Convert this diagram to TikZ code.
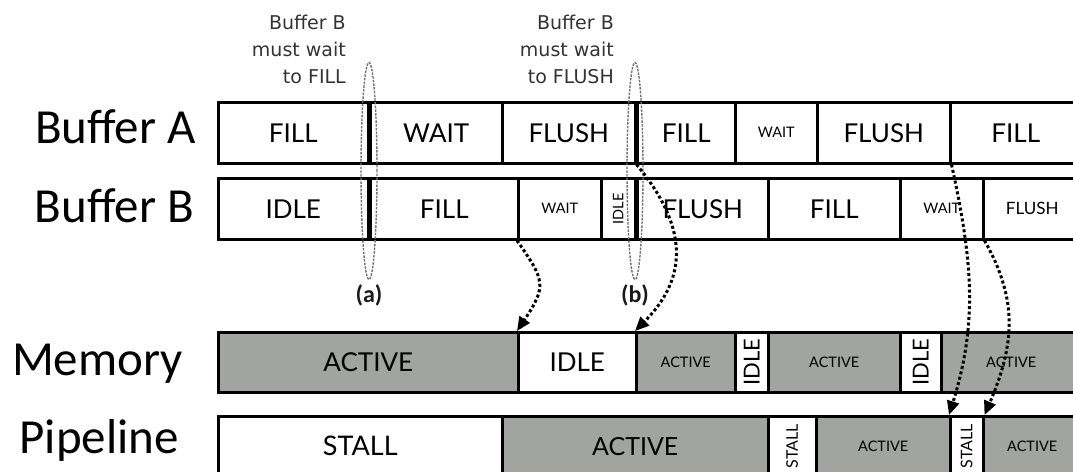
\documentclass[tikz,border=0pt]{standalone}
\usepackage{fontspec}
\usepackage{graphicx}
\setmainfont{Lato}
\newfontfamily\labelfont{Carlito}
\newfontfamily\notefont{DejaVu Sans}
\usetikzlibrary{arrows.meta,positioning,shapes.geometric}

\definecolor{cellgray}{RGB}{162,164,159}

\tikzset{
  cell/.style={draw, line width=2.5pt, anchor=north west, inner sep=0pt, align=center},
  busy/.style={cell, fill=cellgray},
  big/.style={font=\fontsize{26}{30}\selectfont},
  mid/.style={font=\fontsize{22}{26}\selectfont},
  small/.style={font=\fontsize{14.5}{17}\selectfont},
  rowlabel/.style={font=\labelfont\fontsize{49}{53}\selectfont, inner sep=0pt},
  note/.style={font=\notefont\fontsize{19}{27}\selectfont, text=black!80, align=right, inner sep=0pt, anchor=north east},
  group/.style={draw=black!55, ellipse, line width=1.4pt, dash pattern=on 2.5pt off 1.2pt, inner sep=0pt},
  tag/.style={font=\labelfont\bfseries\fontsize{24}{28}\selectfont, text=black!90, inner sep=0pt},
  flow/.style={line width=3pt, dash pattern=on 3pt off 2.5pt, -{Triangle[length=14pt,width=12pt]}}
}

\begin{document}
\begin{tikzpicture}[x=1pt, y=-1pt]

  \clip (0,0) rectangle (1073,471);

  % Row labels
  \node[rowlabel, anchor=base east] (labA) at (196,143) {Buffer A};
  \node[rowlabel, anchor=base east] (labB) at (194,222) {Buffer B};
  \node[rowlabel, anchor=base east] (labM) at (183,375) {Memory};
  \node[rowlabel, anchor=base east] (labP) at (179,453) {Pipeline};

  % Buffer A
  \node[cell, big, minimum width=150pt, minimum height=61pt] (a1) at (217,101) {FILL};
  \node[cell, big, minimum width=132pt, minimum height=61pt] (a2) at (369,101) {WAIT};
  \node[cell, big, minimum width=133pt, minimum height=61pt] (a3) at (501,101) {FLUSH};
  \node[cell, big, minimum width=98pt,  minimum height=61pt] (a4) at (636,101) {FILL};
  \node[cell, small, minimum width=82pt, minimum height=61pt] (a5) at (734,101) {WAIT};
  \node[cell, big, minimum width=133pt, minimum height=61pt] (a6) at (816,101) {FLUSH};
  \node[cell, big, minimum width=131pt, minimum height=61pt] (a7) at (949,101) {FILL};

  % Buffer B
  \node[cell, big, minimum width=150pt, minimum height=61pt] (b1) at (217,177) {IDLE};
  \node[cell, big, minimum width=148pt, minimum height=61pt] (b2) at (369,177) {FILL};
  \node[cell, small, minimum width=83pt, minimum height=61pt] (b3) at (517,177) {WAIT};
  \node[cell, small, minimum width=34pt, minimum height=61pt] (b4) at (600,177) {\rotatebox{90}{IDLE}};
  \node[cell, big, minimum width=131pt, minimum height=61pt] (b5) at (636,177) {FLUSH};
  \node[cell, big, minimum width=132pt, minimum height=61pt] (b6) at (767,177) {FILL};
  \node[cell, small, minimum width=83pt, minimum height=61pt] (b7) at (899,177) {WAIT};
  \node[cell, font=\fontsize{17}{20}\selectfont, minimum width=98pt, minimum height=61pt] (b8) at (982,177) {FLUSH};

  % Memory
  \node[busy, font=\fontsize{26}{30}\selectfont, minimum width=300pt, minimum height=60pt] (m1) at (217,331) {ACTIVE};
  \node[cell, big, minimum width=118pt, minimum height=60pt] (m2) at (517,331) {IDLE};
  \node[busy, small, minimum width=99pt, minimum height=60pt] (m3) at (635,331) {ACTIVE};
  \node[cell, mid, minimum width=33pt, minimum height=60pt] (m4) at (734,331) {\rotatebox{90}{IDLE}};
  \node[busy, small, minimum width=132pt, minimum height=60pt] (m5) at (767,331) {ACTIVE};
  \node[cell, mid, minimum width=41pt, minimum height=60pt] (m6) at (899,331) {\rotatebox{90}{IDLE}};
  \node[busy, small, minimum width=140pt, minimum height=60pt] (m7) at (940,331) {ACTIVE};

  % Pipeline
  \node[cell, font=\fontsize{27}{31}\selectfont, minimum width=284pt, minimum height=60pt] (p1) at (217,415) {STALL};
  \node[busy, font=\fontsize{25}{29}\selectfont, minimum width=266pt, minimum height=60pt] (p2) at (501,415) {ACTIVE};
  \node[cell, font=\fontsize{16}{19}\selectfont, minimum width=48pt, minimum height=60pt] (p3) at (767,415) {\rotatebox{90}{STALL}};
  \node[busy, small, minimum width=134pt, minimum height=60pt] (p4) at (815,415) {ACTIVE};
  \node[cell, font=\fontsize{16}{19}\selectfont, minimum width=33pt, minimum height=60pt] (p5) at (949,415) {\rotatebox{90}{STALL}};
  \node[busy, small, minimum width=98pt, minimum height=60pt] (p6) at (982,415) {ACTIVE};

  % Notes
  \node[note] (notea) at (346,15) {Buffer B\\must wait\\to FILL};
  \node[note] (noteb) at (614,15) {Buffer B\\must wait\\to FLUSH};

  % Dependency groups
  \node[group, minimum width=16pt, minimum height=217pt] (grpa) at (369,171) {};
  \node[group, minimum width=16pt, minimum height=217pt] (grpb) at (635,171) {};
  \node[tag, below=4pt of grpa] (taga) {(a)};
  \node[tag, below=4pt of grpb] (tagb) {(b)};

  % Hand-offs
  \draw[flow] (b3.south west) .. controls +(28,40) and +(30,-45) .. (m2.north west);
  \draw[flow] (a3.south east) .. controls +(50,60) and +(55,-55) .. (m3.north west);
  \draw[flow] (a6.south east) .. controls +(22,100) and +(28,-90) .. (p5.north west);
  \draw[flow] (b7.south east) .. controls +(34,60) and +(30,-70) .. (p5.north east);

\end{tikzpicture}
\end{document}
